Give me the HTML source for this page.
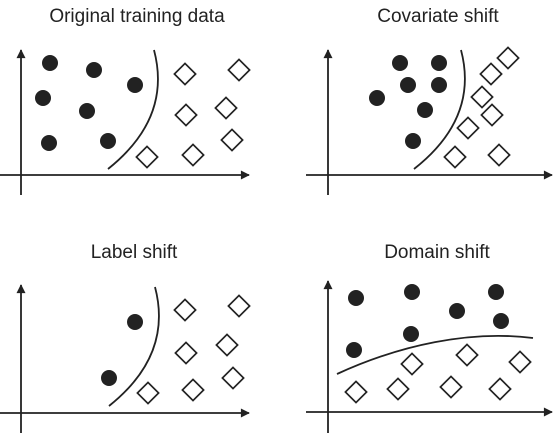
<!DOCTYPE html>
<html><head><meta charset="utf-8"><style>
html,body{margin:0;padding:0;background:#fff;width:553px;height:434px;overflow:hidden}
svg text{font-family:"Liberation Sans",sans-serif;font-size:19px;fill:#222}
</style></head><body>
<svg width="553" height="434" viewBox="0 0 553 434" xmlns="http://www.w3.org/2000/svg">
<defs><marker id="a" viewBox="0 0 10 10" refX="9" refY="5" markerWidth="10" markerHeight="9" orient="auto" markerUnits="userSpaceOnUse"><path d="M0,0 L10,5 L0,10 z" fill="#222"/></marker>
<g id="d"><rect x="-7.5" y="-7.5" width="15" height="15" transform="rotate(45)" fill="#fff" stroke="#222" stroke-width="1.7"/></g>
</defs>
<g text-anchor="middle">
<text x="137" y="22">Original training data</text>
<text x="438" y="22">Covariate shift</text>
<text x="134" y="258">Label shift</text>
<text x="437" y="258">Domain shift</text>
</g>
<g stroke="#222" stroke-width="1.8" fill="none">
<line x1="21" y1="195" x2="21" y2="50" marker-end="url(#a)"/>
<line x1="0" y1="175" x2="249" y2="175" marker-end="url(#a)"/>
<line x1="328" y1="195" x2="328" y2="50" marker-end="url(#a)"/>
<line x1="306" y1="175" x2="552" y2="175" marker-end="url(#a)"/>
<line x1="21" y1="433" x2="21" y2="285" marker-end="url(#a)"/>
<line x1="0" y1="413" x2="249" y2="413" marker-end="url(#a)"/>
<line x1="328" y1="433" x2="328" y2="281" marker-end="url(#a)"/>
<line x1="306" y1="412" x2="552" y2="412" marker-end="url(#a)"/>
<path d="M154 50 Q172 118 108 169"/>
<path d="M461 50 Q479 118 414 169"/>
<path d="M155 287 Q173 355 109 406"/>
<path d="M337 374 C400 345 470 330 533 338"/>
</g>
<g fill="#222">
<circle cx="50" cy="63" r="8"/><circle cx="94" cy="70" r="8"/><circle cx="135" cy="85" r="8"/><circle cx="43" cy="98" r="8"/><circle cx="87" cy="111" r="8"/><circle cx="49" cy="143" r="8"/><circle cx="108" cy="141" r="8"/>
<circle cx="400" cy="63" r="8"/><circle cx="439" cy="63" r="8"/><circle cx="408" cy="85" r="8"/><circle cx="439" cy="85" r="8"/><circle cx="377" cy="98" r="8"/><circle cx="425" cy="110" r="8"/><circle cx="413" cy="141" r="8"/>
<circle cx="135" cy="322" r="8"/><circle cx="109" cy="378" r="8"/>
<circle cx="356" cy="298" r="8"/><circle cx="412" cy="292" r="8"/><circle cx="457" cy="311" r="8"/><circle cx="496" cy="292" r="8"/><circle cx="501" cy="321" r="8"/><circle cx="411" cy="334" r="8"/><circle cx="354" cy="350" r="8"/>
</g>
<use href="#d" x="185" y="74"/><use href="#d" x="239" y="70"/><use href="#d" x="186" y="115"/><use href="#d" x="226" y="108"/><use href="#d" x="232" y="140"/><use href="#d" x="147" y="157"/><use href="#d" x="193" y="155"/>
<use href="#d" x="508" y="58"/><use href="#d" x="491" y="74"/><use href="#d" x="482" y="97"/><use href="#d" x="492" y="115"/><use href="#d" x="468" y="128"/><use href="#d" x="455" y="157"/><use href="#d" x="499" y="155"/>
<use href="#d" x="185" y="310"/><use href="#d" x="239" y="306"/><use href="#d" x="186" y="353"/><use href="#d" x="227" y="345"/><use href="#d" x="233" y="378"/><use href="#d" x="148" y="393"/><use href="#d" x="193" y="390"/>
<use href="#d" x="356" y="392"/><use href="#d" x="398" y="389"/><use href="#d" x="412" y="364"/><use href="#d" x="451" y="387"/><use href="#d" x="467" y="355"/><use href="#d" x="500" y="389"/><use href="#d" x="520" y="362"/>
</svg>
</body></html>
